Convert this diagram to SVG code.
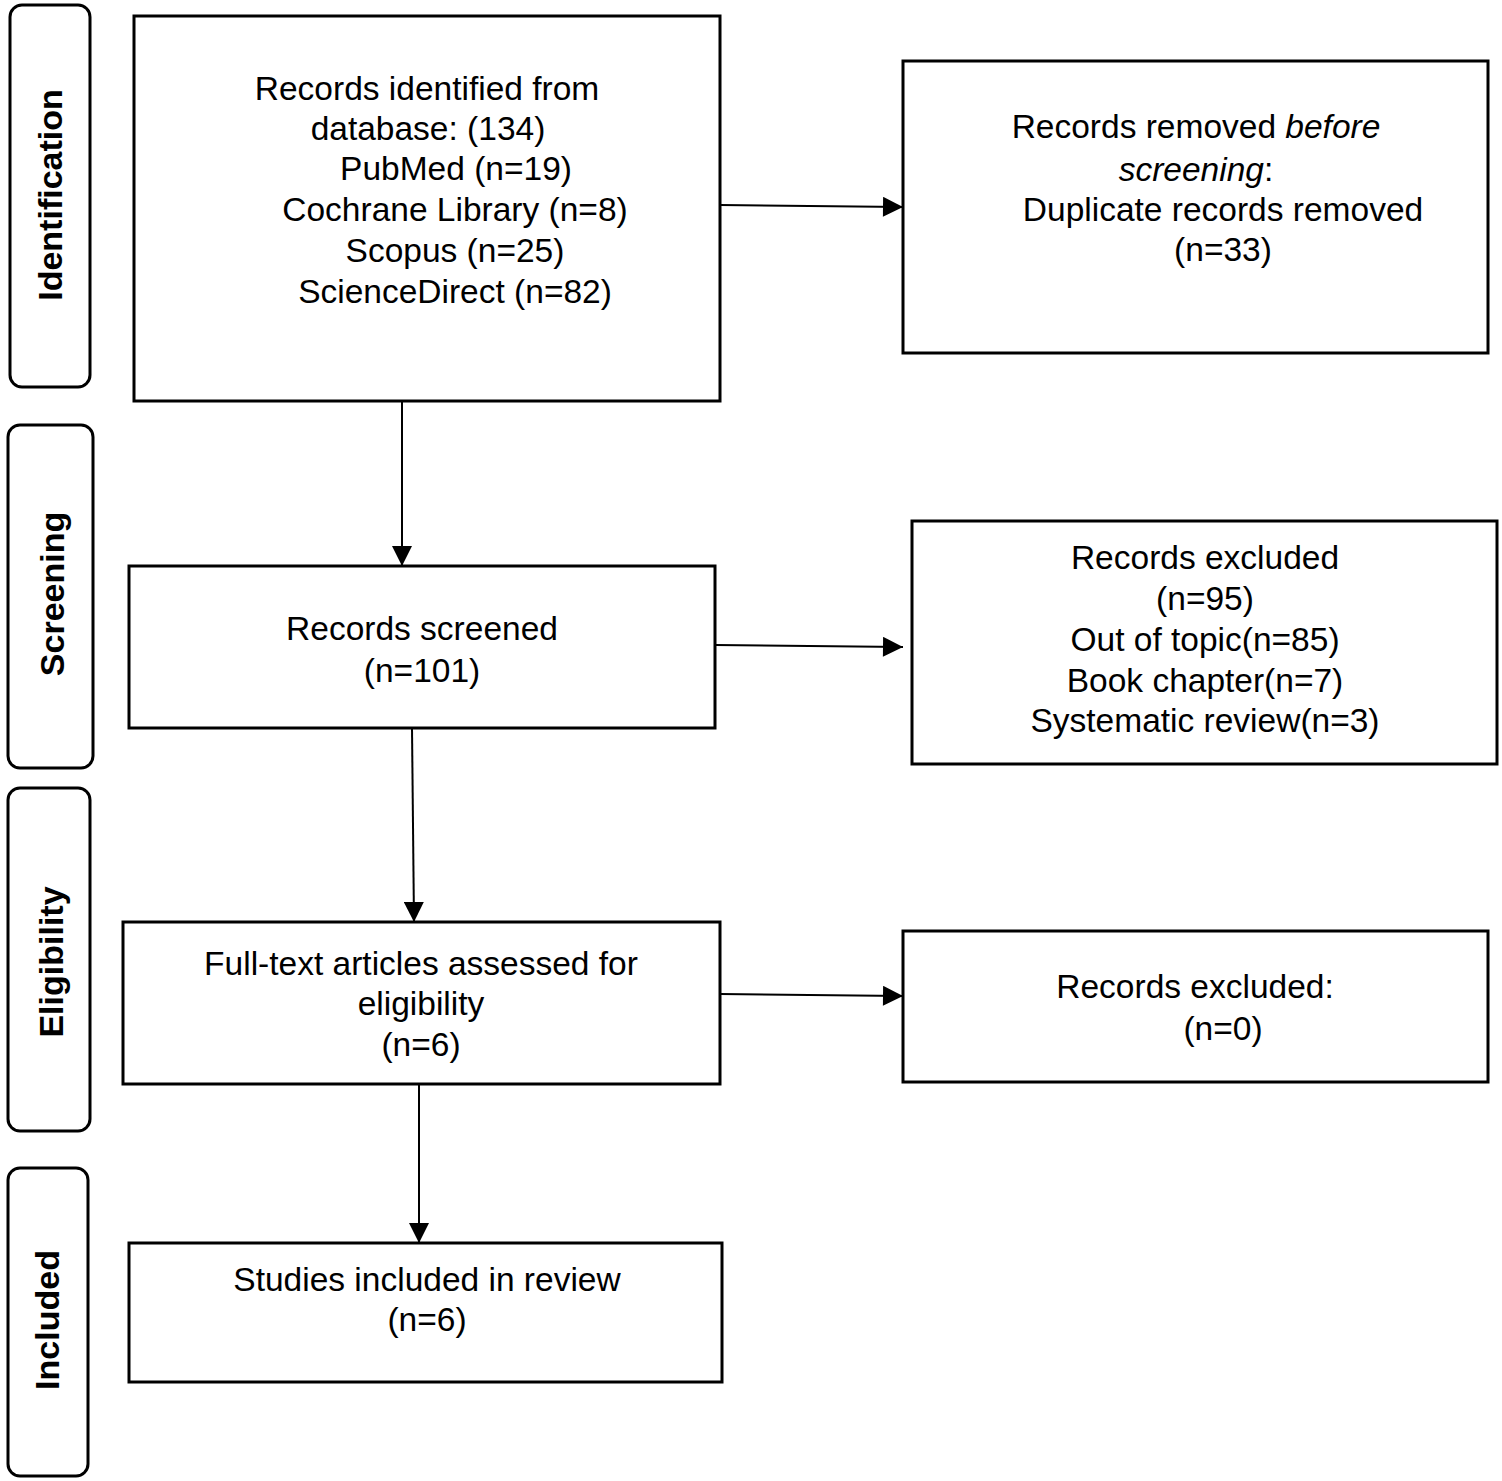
<svg xmlns="http://www.w3.org/2000/svg" width="1502" height="1481" viewBox="0 0 1502 1481">
<defs>
<style>
.box{fill:#fff;stroke:#000;stroke-width:3}
.side{fill:#fff;stroke:#000;stroke-width:3}
text{font-family:"Liberation Sans",Arial,sans-serif;font-size:33.5px;fill:#000;text-anchor:middle}
.lab{font-weight:bold;font-size:34px}
.c{stroke:#000;stroke-width:2;fill:none;marker-end:url(#ah)}
</style>
<marker id="ah" viewBox="0 0 10 10" refX="10" refY="5" markerWidth="22" markerHeight="20" markerUnits="userSpaceOnUse" orient="auto"><path d="M0,0L10,5L0,10z" fill="#000"/></marker>
</defs>
<rect width="1502" height="1481" fill="#fff"/>
<g id="phase-identification"><rect class="side" x="10" y="5" width="80" height="382" rx="12"/><text class="lab" transform="translate(62,195) rotate(-90)">Identification</text></g>
<g id="phase-screening"><rect class="side" x="8" y="425" width="85" height="343" rx="12"/><text class="lab" transform="translate(64,594) rotate(-90)">Screening</text></g>
<g id="phase-eligibility"><rect class="side" x="8" y="788" width="82" height="343" rx="12"/><text class="lab" transform="translate(63,962) rotate(-90)">Eligibility</text></g>
<g id="phase-included"><rect class="side" x="8" y="1168" width="80" height="308" rx="12"/><text class="lab" transform="translate(59,1320) rotate(-90)">Included</text></g>
<g id="identified"><rect class="box" x="134" y="16" width="586" height="385"/>
<text x="427" y="100">Records identified from</text><text x="428" y="140">database: (134)</text><text x="456" y="180">PubMed (n=19)</text><text x="455" y="221">Cochrane Library (n=8)</text><text x="455" y="262">Scopus (n=25)</text><text x="455" y="303">ScienceDirect (n=82)</text></g>
<g id="removed"><rect class="box" x="903" y="61" width="585" height="292"/>
<text x="1196" y="138">Records removed <tspan font-style="italic">before</tspan></text><text x="1196" y="181"><tspan font-style="italic">screening</tspan>:</text><text x="1223" y="221">Duplicate records removed</text><text x="1223" y="261">(n=33)</text></g>
<g id="screened"><rect class="box" x="129" y="566" width="586" height="162"/>
<text x="422" y="640">Records screened</text><text x="422" y="682">(n=101)</text></g>
<g id="excluded1"><rect class="box" x="912" y="521" width="585" height="243"/>
<text x="1205" y="569">Records excluded</text><text x="1205" y="610">(n=95)</text><text x="1205" y="651">Out of topic(n=85)</text><text x="1205" y="692">Book chapter(n=7)</text><text x="1205" y="732">Systematic review(n=3)</text></g>
<g id="fulltext"><rect class="box" x="123" y="922" width="597" height="162"/>
<text x="421" y="975">Full-text articles assessed for</text><text x="421" y="1015">eligibility</text><text x="421" y="1056">(n=6)</text></g>
<g id="excluded2"><rect class="box" x="903" y="931" width="585" height="151"/>
<text x="1195" y="998">Records excluded:</text><text x="1223" y="1040">(n=0)</text></g>
<g id="included"><rect class="box" x="129" y="1243" width="593" height="139"/>
<text x="427" y="1291">Studies included in review</text><text x="427" y="1331">(n=6)</text></g>
<g id="connectors">
<path class="c" d="M720,205L903,207"/>
<path class="c" d="M402,401L402,566"/>
<path class="c" d="M715,645L903,647"/>
<path class="c" d="M412,728L414,922"/>
<path class="c" d="M720,994L903,996"/>
<path class="c" d="M419,1084L419,1243"/>
</g>
</svg>
